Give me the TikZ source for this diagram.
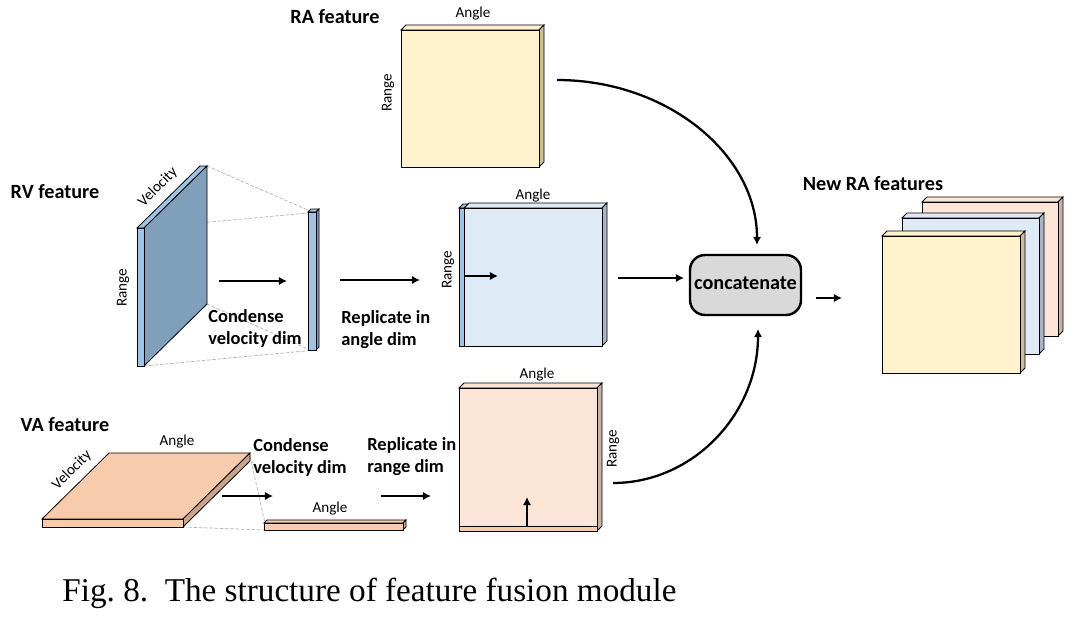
\documentclass[tikz,border=0pt]{standalone}
\usepackage{fontspec}
\setmainfont{Carlito}
\newfontfamily\capfont{Liberation Serif}
\usetikzlibrary{arrows.meta}

\definecolor{rayellow}{HTML}{FFF2CC}
\definecolor{raside}{HTML}{CBBE98}
\definecolor{rablue}{HTML}{DEEBF7}
\definecolor{blueside}{HTML}{A9B5C5}
\definecolor{rvlight}{HTML}{9DC3E6}
\definecolor{rvdark}{HTML}{7F9FBA}
\definecolor{rvside}{HTML}{7A9CC0}
\definecolor{vapeach}{HTML}{F8CBAD}
\definecolor{vapale}{HTML}{FBE5D6}
\definecolor{vaside}{HTML}{C9A48A}
\definecolor{peachside}{HTML}{C9B3A4}
\definecolor{catgray}{HTML}{D9D9D9}

\tikzset{
  title/.style={font=\fontsize{11.5}{13}\selectfont\bfseries},
  note/.style={font=\fontsize{10.5}{12.5}\selectfont\bfseries, align=left, inner sep=0pt},
  dimlabel/.style={font=\fontsize{8.6}{10}\selectfont, inner sep=0pt},
  face/.style={draw=black, line width=0.45pt},
  guide/.style={draw=black!30, dashed, dash pattern=on 2pt off 1pt, line width=0.4pt},
  flow/.style={-{Latex[length=4.6pt,width=4.8pt]}, line width=1.3pt},
  catbox/.style={draw, line width=1.4pt, rounded corners=0.3cm, fill=catgray,
    minimum width=2.22cm, minimum height=1.2cm, inner sep=0pt,
    font=\fontsize{11.5}{13}\selectfont\bfseries}
}

% x, y, width, height, depth, front colour, side colour
\newcommand{\featbox}[7]{%
  \filldraw[face, fill=#6] (#1,#2) -- ++(#5,-#5) -- ++(#3,0) -- ++(-#5,#5) -- cycle;
  \filldraw[face, fill=#7] (#1+#3,#2) -- ++(#5,-#5) -- ++(0,#4) -- ++(-#5,#5) -- cycle;
  \filldraw[face, fill=#6] (#1,#2) rectangle ++(#3,#4);
}

\begin{document}
\begin{tikzpicture}[x=0.02cm,y=-0.02cm]
  \useasboundingbox (0,0) rectangle (1076,619);

  % guide lines of the condensing steps
  \draw[guide] (207,166) -- (310,211);
  \draw[guide] (144,228) -- (308,213);
  \draw[guide] (207,304) -- (308,349);
  \draw[guide] (144,366) -- (316,350);
  \draw[guide] (250,456) -- (265,523);
  \draw[guide] (183,527) -- (264,530);

  % RA feature
  \featbox{401}{30}{138}{137}{5}{rayellow}{raside}

  % RV feature and its condensed bar
  \filldraw[face, fill=rvlight] (137,228) -- (144,228) -- (207,166) -- (200,166) -- cycle;
  \filldraw[face, fill=rvdark] (144,228) -- (207,166) -- (207,304) -- (144,366) -- cycle;
  \filldraw[face, fill=rvlight] (137,228) rectangle (144,366);
  \featbox{308}{212}{8}{138}{3}{rvlight}{rvside}

  % RV replicated in angle dim
  \featbox{464}{208}{138}{138}{5}{rablue}{blueside}
  \filldraw[face, fill=rvlight] (459,208) -- (463,204) -- (468,204) -- (464,208) -- cycle;
  \filldraw[face, fill=rvlight] (459,208) rectangle (464,346);

  % VA feature and its condensed bar
  \filldraw[face, fill=vapeach] (42,519) -- (109,453) -- (250,453) -- (183,519) -- cycle;
  \filldraw[face, fill=vaside] (183,519) -- (250,453) -- (250,461) -- (183,527) -- cycle;
  \filldraw[face, fill=vapeach] (42,519) rectangle (183,527);
  \featbox{264}{523}{139}{7}{3}{vapeach}{vaside}

  % VA replicated in range dim
  \featbox{459}{388}{138}{143}{5}{vapale}{peachside}
  \filldraw[face, fill=vapeach] (459,526) rectangle (597,531);

  % new RA features
  \featbox{922}{202}{136}{134}{5}{vapale}{peachside}
  \featbox{902}{218}{137}{136}{5}{rablue}{blueside}
  \featbox{882}{236}{138}{137}{5}{rayellow}{raside}

  \node[catbox] (cat) at (745.5,285) {\raisebox{2.5pt}{concatenate}};

  \begin{scope}[every node/.style={title}]
    \node (ralab) at (335,17) {RA feature};
    \node (rvlab) at (55,192) {RV feature};
    \node (valab) at (65,425) {VA feature};
    \node (newlab) at (873,184) {New RA features};
  \end{scope}

  \begin{scope}[every node/.style={dimlabel}]
    \node (raang) at (473,14) {Angle};
    \node[rotate=90] (rarng) at (388,93) {Range};
    \node[rotate=45] (rvvel) at (158,187) {Velocity};
    \node[rotate=90] (rvrng) at (123,288) {Range};
    \node (blang) at (533,196) {Angle};
    \node[rotate=90] (blrng) at (448,270) {Range};
    \node[rotate=45] (vavel) at (72,470) {Velocity};
    \node (vaang) at (177,442) {Angle};
    \node (barang) at (330,509) {Angle};
    \node (pkang) at (537,375) {Angle};
    \node[rotate=90] (pkrng) at (613,449) {Range};
  \end{scope}

  \begin{scope}[every node/.style={note, anchor=west}]
    \node (rvcond) at (208,328) {Condense\\velocity dim};
    \node (rvrep) at (341,330) {Replicate in\\angle dim};
    \node (vacond) at (253,457) {Condense\\velocity dim};
    \node (varep) at (367,457) {Replicate in\\range dim};
  \end{scope}

  % arrow ends
  \coordinate (rv1a) at (219,281);  \coordinate (rv1b) at (287,281);
  \coordinate (rv2a) at (340,280);  \coordinate (rv2b) at (420,280);
  \coordinate (bl1a) at (464,276);  \coordinate (bl1b) at (498,276);
  \coordinate (bl2a) at (618,278);  \coordinate (bl2b) at (684,278);
  \coordinate (va1a) at (222,496);  \coordinate (va1b) at (273,496);
  \coordinate (va2a) at (381,496);  \coordinate (va2b) at (431,496);
  \coordinate (pk1a) at (527,526);  \coordinate (pk1b) at (527,497);
  \coordinate (catout) at (816,298); \coordinate (newin) at (842,298);
  \coordinate (raout) at (557,80);  \coordinate (catin1) at (757,245);
  \coordinate (pkout) at (613,483); \coordinate (catin2) at (758,329);

  \begin{scope}[every path/.style={flow}]
    \draw (rv1a) -- (rv1b);
    \draw (rv2a) -- (rv2b);
    \draw (bl1a) -- (bl1b);
    \draw (bl2a) -- (bl2b);
    \draw (va1a) -- (va1b);
    \draw (va2a) -- (va2b);
    \draw (pk1a) -- (pk1b);
    \draw (catout) -- (newin);
    \draw (raout) .. controls (667,80) and (757,154) .. (catin1);
    \draw (pkout) .. controls (693,483) and (758,414) .. (catin2);
  \end{scope}

  \node[anchor=west, inner sep=0pt, font=\capfont\fontsize{18.9}{22}\selectfont] (caption) at (62,593)
    {Fig.~8.~~The structure of feature fusion module};
\end{tikzpicture}
\end{document}
